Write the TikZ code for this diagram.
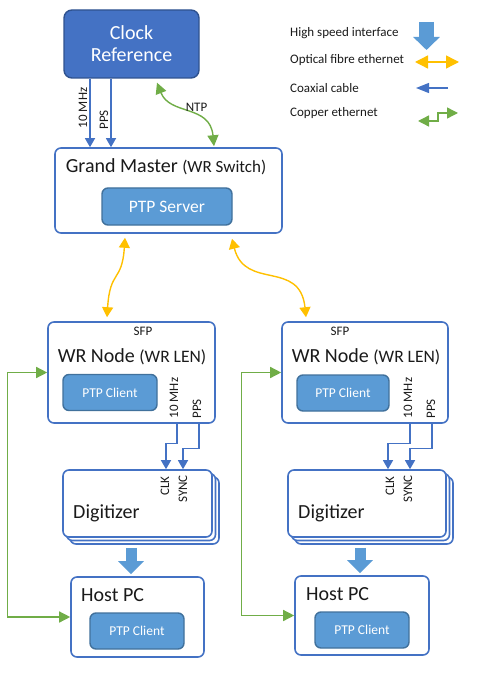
\documentclass[tikz,border=0pt]{standalone}
\usepackage{fontspec}
\setmainfont{Carlito}
\usetikzlibrary{arrows.meta,shadows}

\definecolor{wrblue}{HTML}{4472C4}
\definecolor{clkedge}{HTML}{2F528F}
\definecolor{ptpfill}{HTML}{5B9BD5}
\definecolor{ptpedge}{HTML}{41719C}
\definecolor{fibreorange}{HTML}{FFC000}
\definecolor{coppergreen}{HTML}{70AD47}
\definecolor{inktext}{HTML}{1A1A1A}

\tikzset{
  box/.style={draw=wrblue, line width=1.6pt, rounded corners=6pt, fill=white, inner sep=0pt},
  ptpbox/.style={draw=ptpedge, fill=ptpfill, line width=1.4pt, rounded corners=6pt,
    text=white, inner sep=0pt, minimum width=94pt, minimum height=36pt},
  title/.style={text=inktext, inner sep=0pt, font=\fontsize{20}{24}\selectfont},
  lbl/.style={text=inktext, inner sep=0pt, font=\fontsize{13}{15}\selectfont},
  legend/.style={text=inktext, inner sep=0pt, anchor=west, font=\fontsize{13}{15}\selectfont},
  coax/.style={draw=wrblue, line width=1.3pt, -{Triangle[length=9pt,width=10pt]}},
  fibre/.style={draw=fibreorange, line width=1.4pt,
    {Triangle[length=10pt,width=11pt]}-{Triangle[length=10pt,width=11pt]}},
  copper/.style={draw=coppergreen, line width=1.4pt,
    {Triangle[length=11pt,width=11pt]}-{Triangle[length=11pt,width=11pt]}},
  hslink/.style={draw=ptpfill, line width=11pt, -{Triangle[length=13pt,width=25pt]}},
  stack/.style={box, double copy shadow={shadow xshift=3.5pt, shadow yshift=-3.5pt}},
}

\begin{document}
\begin{tikzpicture}[x=1pt, y=1pt]
\useasboundingbox (0,0) rectangle (479,-676);

% clock reference and grand master
\node[draw=clkedge, fill=wrblue, line width=1.4pt, rounded corners=8pt, text=white,
  minimum width=135pt, minimum height=68pt, align=center,
  font=\fontsize{20}{22}\selectfont] (clk) at (131.5,-44) {Clock\\Reference};

\node[box, minimum width=227pt, minimum height=85pt] (gm) at (168.5,-190.5) {};
\node[title, anchor=base] (gmtitle) at (166,-173)
  {Grand Master {\fontsize{17}{20}\selectfont(WR Switch)}};
\node[ptpbox, minimum width=130pt, minimum height=37pt,
  font=\fontsize{17.5}{20}\selectfont] (ptps) at (167,-206.5) {PTP Server};

\draw[coax] ([xshift=-41.5pt]clk.south) -- ([xshift=-78.5pt]gm.north);
\draw[coax] ([xshift=-20.5pt]clk.south) -- ([xshift=-57.5pt]gm.north);
\node[lbl, rotate=90] (gm10) at (83,-108) {10 MHz};
\node[lbl, rotate=90] (gmpps) at (104,-120) {PPS};

\draw[copper] ([xshift=25.5pt,yshift=-4pt]clk.south)
  .. controls +(13,-33) and +(-4,42) .. ([xshift=45.5pt,yshift=1pt]gm.north);
\node[lbl] (ntp) at (196.5,-107.5) {NTP};

% WR nodes
\node[box, minimum width=167pt, minimum height=101pt] (wrl) at (131.5,-372.5) {};
\node[box, minimum width=166pt, minimum height=101pt] (wrr) at (365,-372.5) {};
\node[lbl, font=\fontsize{13}{15}\selectfont] (sfpl) at (143,-331) {SFP};
\node[lbl, font=\fontsize{13}{15}\selectfont] (sfpr) at (340,-331) {SFP};
\node[title, anchor=base] (wrltitle) at (132,-362)
  {WR Node {\fontsize{17.5}{20}\selectfont(WR LEN)}};
\node[title, anchor=base] (wrrtitle) at (366,-362)
  {WR Node {\fontsize{17.5}{20}\selectfont(WR LEN)}};
\node[ptpbox, font=\fontsize{13.5}{16}\selectfont] (ptpcl) at (110,-392.5) {PTP Client};
\node[ptpbox, minimum width=92pt, font=\fontsize{13.5}{16}\selectfont] (ptpcr) at (343,-393) {PTP Client};

\draw[fibre] ([xshift=-43.5pt,yshift=-4pt]gm.south)
  .. controls +(-3,-45) and +(3,48) .. ([xshift=-24.5pt,yshift=4pt]wrl.north);
\draw[fibre] ([xshift=63.5pt,yshift=-5pt]gm.south)
  .. controls +(13,-52) and +(-6,58) .. ([xshift=-59pt,yshift=4pt]wrr.north);

% digitizers
\node[stack, minimum width=149pt, minimum height=67pt] (digl) at (137.5,-503.5) {};
\node[stack, minimum width=158pt, minimum height=67pt] (digr) at (367,-503.5) {};
\node[title, anchor=base west] (digltext) at (73,-518) {Digitizer};
\node[title, anchor=base west] (digrtext) at (298,-518) {Digitizer};

\draw[coax] ([xshift=45.5pt]wrl.south) -- ++(0,-20) -| ([xshift=28.5pt]digl.north);
\draw[coax] ([xshift=67.5pt]wrl.south) -- ++(0,-25) -| ([xshift=45.5pt]digl.north);
\draw[coax] ([xshift=45pt]wrr.south) -- ++(0,-20) -| ([xshift=21pt]digr.north);
\draw[coax] ([xshift=67pt]wrr.south) -- ++(0,-25) -| ([xshift=43pt]digr.north);

\node[lbl, rotate=90] (wrl10) at (174,-398) {10 MHz};
\node[lbl, rotate=90] (wrlpps) at (197,-409) {PPS};
\node[lbl, rotate=90] (wrr10) at (408,-398) {10 MHz};
\node[lbl, rotate=90] (wrrpps) at (431,-409) {PPS};
\node[lbl, rotate=90] (diglclk) at (165,-486) {CLK};
\node[lbl, rotate=90] (diglsync) at (183,-489) {SYNC};
\node[lbl, rotate=90] (digrclk) at (390,-486) {CLK};
\node[lbl, rotate=90] (digrsync) at (408,-489) {SYNC};

% host PCs
\node[box, minimum width=133pt, minimum height=80pt] (hostl) at (137.5,-617) {};
\node[box, minimum width=134pt, minimum height=79pt] (hostr) at (362,-615.5) {};
\node[title, anchor=base west] (hostltext) at (81,-601) {Host PC};
\node[title, anchor=base west] (hostrtext) at (306,-600) {Host PC};
\node[ptpbox, font=\fontsize{13.5}{16}\selectfont] (ptph1) at (137,-631) {PTP Client};
\node[ptpbox, font=\fontsize{13.5}{16}\selectfont] (ptph2) at (362,-630) {PTP Client};

\draw[hslink] ([xshift=-6.5pt,yshift=-10pt]digl.south) -- ([xshift=-6.5pt,yshift=2pt]hostl.north);
\draw[hslink] ([xshift=-7pt,yshift=-10pt]digr.south) -- ([xshift=-2pt,yshift=2pt]hostr.north);

\draw[copper] (hostl.west) -- ++(-63,0) |- (wrl.west);
\draw[copper] (hostr.west) -- ++(-53,0) |- (wrr.west);

% legend
\node[legend] (lghs) at (290,-33) {High speed interface};
\node[legend] (lgfibre) at (290,-60) {Optical fibre ethernet};
\node[legend] (lgcoax) at (290,-88) {Coaxial cable};
\node[legend] (lgcopper) at (290,-113) {Copper ethernet};

\coordinate (hsa) at (426.5,-22);
\coordinate (hsb) at (426.5,-50);
\coordinate (fia) at (415,-62);
\coordinate (fib) at (459,-62);
\coordinate (coa) at (448,-88);
\coordinate (cob) at (416,-88);
\coordinate (cua) at (418,-121);
\coordinate (cub) at (458,-113);

\draw[draw=ptpfill, line width=15pt, -{Triangle[length=13pt,width=26pt]}] (hsa) -- (hsb);
\draw[fibre, {Triangle[length=13pt,width=13pt]}-{Triangle[length=13pt,width=13pt]}] (fia) -- (fib);
\draw[coax, -{Triangle[length=13pt,width=10pt]}] (coa) -- (cob);
\draw[copper] (cua) -- ++(20,0) -- ++(0,8) -- (cub);

\end{tikzpicture}
\end{document}
